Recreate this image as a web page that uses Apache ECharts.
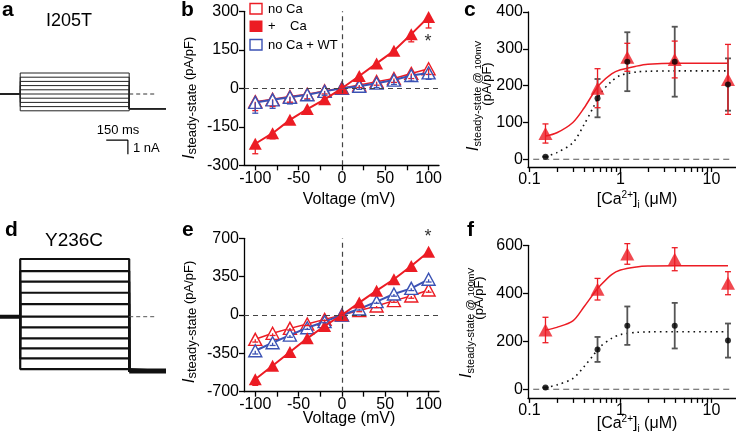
<!DOCTYPE html>
<html>
<head>
<meta charset="utf-8">
<script src="https://cdn.jsdelivr.net/npm/echarts@6/dist/echarts.min.js"></script>
<style>
html, body { margin: 0; padding: 0; background: #fff; }
#chart { width: 736px; height: 439px; }
</style>
</head>
<body>
<div id="chart"></div>
<script>
var FONT = '"Liberation Sans", Arial, Helvetica, sans-serif';
var RED = '#ec1c24';
var BLUE = '#3b52b4';

// a, d: whole-cell current traces (nA); voltage step 140-895 ms
var stepTimes = [0, 140, 895, 1150];
var tracesA = [1.5, 1.2, 0.9, 0.6, 0.3, 0, -0.3, -0.6, -0.9, -1.2];
var tailA = -1.05;
var tracesD = [4.12, 3.26, 2.5, 1.71, 0.9, 0, -0.76, -1.55, -2.26, -2.98, -3.74];
var tailD = -3.88;
var scaleBarMs = 150;
var scaleBarNA = 1;

// b, e: steady-state I-V (pA/pF)
var voltages = [-100, -80, -60, -40, -20, 0, 20, 40, 60, 80, 100];
var bNoCa = [-52, -43, -32, -23, -10, 0, 13, 26, 38, 58, 76];
var bNoCaErr = [35, 28, 22, 18, 12, 3, 10, 14, 15, 20, 22];
var bCa = [-216, -175, -123, -81, -43, 0, 48, 97, 146, 211, 278];
var bCaErr = [39, 22, 15, 12, 10, 4, 8, 10, 12, 30, 43];
var bWT = [-55, -45, -35, -25, -12, 0, 8, 20, 32, 50, 60];
var bWTErr = [42, 33, 26, 20, 15, 3, 12, 17, 17, 22, 25];

var eNoCa = [-222, -167, -122, -82, -40, 0, 40, 82, 131, 173, 228];
var eNoCaErr = [25, 20, 15, 15, 10, 5, 10, 15, 15, 20, 20];
var eCa = [-587, -463, -338, -213, -100, 0, 113, 222, 326, 447, 578];
var eCaErr = [55, 30, 25, 20, 15, 5, 15, 20, 20, 25, 40];
var eWT = [-326, -253, -183, -116, -61, 0, 55, 122, 192, 243, 326];
var eWTErr = [30, 25, 20, 15, 10, 5, 10, 15, 20, 20, 25];

// c, f: current at +100 mV vs [Ca2+]i (uM)
var caConc = [0.15, 0.56, 1.19, 3.95, 15.2];
var cRed = [70, 193, 277, 271, 217];
var cRedErr = [26, 53, 38, 50, 95];
var fRed = [247, 417, 564, 542, 442];
var fRedErr = [53, 45, 43, 48, 48];
var wtBlack = [7, 166, 265, 265, 203];
var wtBlackErr = [0, 52, 80, 95, 71];

// fitted curves
var fitConc = [0.15, 0.2, 0.3, 0.4, 0.5, 0.6, 0.8, 1.0, 1.5, 2, 4, 15.2];
var cRedFit = [63, 72, 100, 140, 178, 205, 232, 243, 253, 258, 261, 261];
var fRedFit = [247, 258, 285, 345, 395, 432, 478, 497, 510, 514, 515, 515];
var wtFit = [7, 18, 45, 95, 140, 178, 212, 228, 237, 239, 240, 240];
var baseConc = [0.11, 16];
var logTicks = [0.1, 0.2, 0.3, 0.4, 0.5, 0.6, 0.7, 0.8, 0.9, 1, 2, 3, 4, 5, 6, 7, 8, 9, 10];
var logLabels = [0.1, 1, 10];

function tracePath(level, tail) {
    return [[stepTimes[0], 0], [stepTimes[1], 0], [stepTimes[1], level],
            [stepTimes[2], level], [stepTimes[2], tail], [stepTimes[3], tail]];
}

function axisBase(gi, min, max) {
    return {
        type: 'value', gridIndex: gi, min: min, max: max,
        splitLine: {show: false},
        axisLine: {show: true, onZero: false, lineStyle: {color: '#000', width: 1.3}},
        axisTick: {show: true, length: 5, lineStyle: {color: '#000', width: 1.3}},
        axisLabel: {color: '#000', fontSize: 16, margin: 5, fontFamily: FONT}
    };
}

function hiddenAxis(gi, min, max) {
    return {type: 'value', gridIndex: gi, min: min, max: max, show: false};
}

function ivSeries(name, ai, vals, color, filled, lw, z) {
    return {
        name: name, type: 'line', xAxisIndex: ai, yAxisIndex: ai, z: z,
        data: voltages.map(function (v, i) { return [v, vals[i]]; }),
        symbol: 'triangle', symbolSize: [13, 12], showSymbol: true,
        itemStyle: {color: filled ? color : '#fff', borderColor: color, borderWidth: filled ? 0 : 1.4},
        lineStyle: {color: color, width: lw},
        silent: true
    };
}

function errSeries(xi, yi, data, color, lw, capW, downOnly, z) {
    return {
        type: 'custom', xAxisIndex: xi, yAxisIndex: yi, z: z, silent: true,
        encode: {x: 0, y: 1},
        data: data,
        renderItem: function (params, api) {
            var x = api.value(0), y = api.value(1), e = api.value(2);
            var top = api.coord([x, downOnly ? y : y + e]);
            var bot = api.coord([x, y - e]);
            var st = {stroke: color, lineWidth: lw};
            var kids = [
                {type: 'line', shape: {x1: top[0], y1: top[1], x2: bot[0], y2: bot[1]}, style: st},
                {type: 'line', shape: {x1: bot[0] - capW / 2, y1: bot[1], x2: bot[0] + capW / 2, y2: bot[1]}, style: st}
            ];
            if (!downOnly) {
                kids.push({type: 'line', shape: {x1: top[0] - capW / 2, y1: top[1], x2: top[0] + capW / 2, y2: top[1]}, style: st});
            }
            return {type: 'group', children: kids};
        }
    };
}

function ivErr(vals, errs) {
    return voltages.map(function (v, i) { return [v, vals[i], errs[i]]; });
}

function logPts(xs, ys) {
    return xs.map(function (c, i) { return [Math.log10(c), ys[i]]; });
}

function logErr(ys, errs) {
    return caConc.map(function (c, i) { return [Math.log10(c), ys[i], errs[i]]; });
}

function zeroLines(ai) {
    return {
        type: 'line', xAxisIndex: ai, yAxisIndex: ai, z: 1, data: [[0, 0]], symbol: 'none',
        lineStyle: {opacity: 0}, silent: true,
        markLine: {
            silent: true, symbol: 'none', label: {show: false}, animation: false,
            lineStyle: {color: '#444', width: 1.2, type: [5, 4]},
            data: [{xAxis: 0}, {yAxis: 0}]
        }
    };
}

function logXAxis(gi) {
    var ax = axisBase(gi, -1.016, 1.27);
    ax.axisTick.customValues = logTicks.map(Math.log10);
    ax.axisLabel.customValues = logLabels.map(Math.log10);
    ax.axisLabel.formatter = function (v) { return String(+Math.pow(10, v).toPrecision(3)); };
    return ax;
}

function ivXAxis(gi) {
    var ax = axisBase(gi, -113, 112);
    ax.axisTick.customValues = [-100, -75, -50, -25, 0, 25, 50, 75, 100];
    ax.axisLabel.customValues = [-100, -50, 0, 50, 100];
    return ax;
}

function ticksY(gi, min, max, vals) {
    var ax = axisBase(gi, min, max);
    ax.axisTick.customValues = vals;
    ax.axisLabel.customValues = vals;
    return ax;
}

var ivY1 = axisBase(1, -300, 300); ivY1.interval = 150;
var ivY4 = axisBase(4, -700, 700); ivY4.interval = 350;

var series = [];

// a traces
tracesA.forEach(function (lv) {
    series.push({type: 'line', xAxisIndex: 0, yAxisIndex: 0, data: tracePath(lv, tailA), symbol: 'none',
                 lineStyle: {color: '#222', width: 1}, silent: true});
});
series.push({type: 'line', xAxisIndex: 0, yAxisIndex: 0, symbol: 'none', silent: true,
             data: [[stepTimes[2], 0], [stepTimes[2] + 178, 0]],
             lineStyle: {color: '#333', width: 1, type: [4, 3]}});
series.push({type: 'line', xAxisIndex: 0, yAxisIndex: 0, symbol: 'none', silent: true,
             data: [[886 - scaleBarMs, -3.3], [886, -3.3], [886, -3.3 - scaleBarNA]],
             lineStyle: {color: '#000', width: 1.2}});

// d traces
tracesD.forEach(function (lv) {
    series.push({type: 'line', xAxisIndex: 3, yAxisIndex: 3, data: tracePath(lv, tailD), symbol: 'none',
                 lineStyle: {color: '#111', width: 2.2}, silent: true});
});
series.push({type: 'line', xAxisIndex: 3, yAxisIndex: 3, symbol: 'none', silent: true,
             data: [[stepTimes[0], 0], [stepTimes[1], 0]], lineStyle: {color: '#111', width: 4}});
series.push({type: 'line', xAxisIndex: 3, yAxisIndex: 3, symbol: 'none', silent: true,
             data: [[stepTimes[2], tailD], [stepTimes[3], tailD]], lineStyle: {color: '#111', width: 5}});
series.push({type: 'line', xAxisIndex: 3, yAxisIndex: 3, symbol: 'none', silent: true,
             data: [[stepTimes[2], 0], [stepTimes[2] + 178, 0]],
             lineStyle: {color: '#555', width: 1, type: [4, 3]}});

// b
series.push(zeroLines(1));
series.push(ivSeries('no Ca', 1, bNoCa, RED, false, 1.5, 2));
series.push(ivSeries('no Ca + WT', 1, bWT, BLUE, false, 2, 3));
series.push(ivSeries('+    Ca', 1, bCa, RED, true, 2, 4));
series.push(errSeries(1, 1, ivErr(bNoCa, bNoCaErr), RED, 1.3, 6, true, 5));
series.push(errSeries(1, 1, ivErr(bWT, bWTErr), BLUE, 1.3, 6, true, 5));
series.push(errSeries(1, 1, ivErr(bCa, bCaErr), RED, 1.3, 6, true, 5));

// e
series.push(zeroLines(4));
series.push(ivSeries('no Ca', 4, eNoCa, RED, false, 1.5, 2));
series.push(ivSeries('no Ca + WT', 4, eWT, BLUE, false, 2, 3));
series.push(ivSeries('+    Ca', 4, eCa, RED, true, 2, 4));
series.push(errSeries(4, 4, ivErr(eNoCa, eNoCaErr), RED, 1.3, 6, true, 5));
series.push(errSeries(4, 4, ivErr(eWT, eWTErr), BLUE, 1.3, 6, true, 5));
series.push(errSeries(4, 4, ivErr(eCa, eCaErr), RED, 1.3, 6, true, 5));

// c and f
[[2, cRed, cRedErr, cRedFit], [5, fRed, fRedErr, fRedFit]].forEach(function (p) {
    var ai = p[0];
    series.push({type: 'line', xAxisIndex: ai, yAxisIndex: ai, symbol: 'none', silent: true, z: 1,
                 data: logPts(baseConc, [0, 0]), lineStyle: {color: '#555', width: 1.2, type: [6, 4]}});
    series.push({type: 'line', xAxisIndex: ai, yAxisIndex: ai, symbol: 'none', silent: true, z: 2, smooth: 0.3,
                 data: logPts(fitConc, wtFit), lineStyle: {color: '#111', width: 1.6, type: [1.6, 4]}});
    series.push({type: 'line', xAxisIndex: ai, yAxisIndex: ai, symbol: 'none', silent: true, z: 2, smooth: 0.3,
                 data: logPts(fitConc, p[3]), lineStyle: {color: RED, width: 1.5}});
    series.push(errSeries(ai, ai, logErr(wtBlack, wtBlackErr), '#555', 1.8, 6, false, 3));
    series.push(errSeries(ai, ai, logErr(p[1], p[2]), RED, 1.3, 6, false, 4));
    series.push({type: 'scatter', xAxisIndex: ai, yAxisIndex: ai, z: 5, silent: true,
                 data: logPts(caConc, p[1]), symbol: 'triangle', symbolSize: [14, 13],
                 itemStyle: {color: RED}});
    series.push({type: 'scatter', xAxisIndex: ai, yAxisIndex: ai, z: 6, silent: true,
                 data: logPts(caConc, wtBlack), symbol: 'circle', symbolSize: 6,
                 itemStyle: {color: '#000'}});
});

function txt(x, y, text, size, extra, rot) {
    var style = {text: text, fontSize: size, fontFamily: FONT, fill: '#000',
                 textAlign: 'center', textVerticalAlign: 'middle'};
    for (var k in extra) style[k] = extra[k];
    var el = {type: 'text', x: x, y: y, silent: true, style: style};
    if (rot) el.rotation = rot;
    return el;
}

var yRich = {
    i: {fontSize: 17, fontStyle: 'italic', fontFamily: FONT, fill: '#000', lineHeight: 20, verticalAlign: 'middle'},
    s: {fontSize: 13, fontFamily: FONT, fill: '#000', lineHeight: 11, verticalAlign: 'bottom'},
    t: {fontSize: 11, fontFamily: FONT, fill: '#000', lineHeight: 11, verticalAlign: 'bottom'},
    m: {fontSize: 9, fontFamily: FONT, fill: '#000', lineHeight: 14, verticalAlign: 'bottom'},
    n: {fontSize: 13, fontFamily: FONT, fill: '#000', lineHeight: 20, verticalAlign: 'middle'}
};
var caRich = {
    sup: {fontSize: 10, fontFamily: FONT, fill: '#000', lineHeight: 10, verticalAlign: 'top'},
    sub: {fontSize: 10, fontFamily: FONT, fill: '#000', lineHeight: 10, verticalAlign: 'bottom'}
};
var R90 = Math.PI / 2;
var ivTitle = '{i|I}{s|steady-state}{n| (pA/pF)}';
var caTitle1 = '{i|I}{t|steady-state @ }{m|100mV}';
var caXTitle = '[Ca{sup|2+}]{sub|i} (\u03bcM)';

var graphic = [
    txt(2, 10, 'a', 21, {fontWeight: 'bold', textAlign: 'left'}),
    txt(181, 10, 'b', 21, {fontWeight: 'bold', textAlign: 'left'}),
    txt(464, 10, 'c', 21, {fontWeight: 'bold', textAlign: 'left'}),
    txt(5, 230, 'd', 21, {fontWeight: 'bold', textAlign: 'left'}),
    txt(182, 230, 'e', 21, {fontWeight: 'bold', textAlign: 'left'}),
    txt(467, 230, 'f', 21, {fontWeight: 'bold', textAlign: 'left'}),
    txt(69, 21, 'I205T', 18),
    txt(74, 241, 'Y236C', 19),
    txt(118, 130, '150 ms', 13),
    txt(133, 148, '1 nA', 13, {textAlign: 'left'}),
    txt(349, 200, 'Voltage (mV)', 16),
    txt(349, 419, 'Voltage (mV)', 16),
    txt(637, 200, caXTitle, 16, {rich: caRich, lineHeight: 20}),
    txt(637, 424, caXTitle, 16, {rich: caRich, lineHeight: 20}),
    txt(189, 98, ivTitle, 13, {rich: yRich}, R90),
    txt(189, 322, ivTitle, 13, {rich: yRich}, R90),
    txt(473, 96, caTitle1, 13, {rich: yRich}, R90),
    txt(487, 84, '(pA/pF)', 13, {}, R90),
    txt(466, 323, caTitle1, 13, {rich: yRich}, R90),
    txt(479, 298, '(pA/pF)', 13, {}, R90),
    txt(428, 42, '*', 18, {fill: '#333'}),
    txt(428, 237, '*', 18, {fill: '#333'}),
    // legend of panel b
    {type: 'rect', silent: true, shape: {x: 250, y: 3.5, width: 12, height: 10.5},
     style: {fill: '#fff', stroke: RED, lineWidth: 1.4}},
    {type: 'rect', silent: true, shape: {x: 249.5, y: 20.5, width: 13, height: 11.5},
     style: {fill: RED}},
    {type: 'rect', silent: true, shape: {x: 250, y: 39.5, width: 12, height: 10.5},
     style: {fill: '#fff', stroke: BLUE, lineWidth: 1.4}},
    txt(268, 9, 'no Ca', 13, {textAlign: 'left'}),
    txt(268, 26.5, '+    Ca', 13, {textAlign: 'left'}),
    txt(268, 45, 'no Ca + WT', 13, {textAlign: 'left'})
];

var option = {
    animation: false,
    backgroundColor: '#fff',
    textStyle: {fontFamily: FONT},
    grid: [
        {left: 0, top: 59, width: 166, height: 105},
        {left: 244, top: 11.3, width: 195, height: 154},
        {left: 528, top: 12, width: 208, height: 155},
        {left: 0, top: 246.7, width: 166, height: 140},
        {left: 244, top: 238.3, width: 195, height: 153.4},
        {left: 528, top: 245.3, width: 208, height: 152.6}
    ],
    xAxis: [
        hiddenAxis(0, 0, 1150),
        ivXAxis(1),
        logXAxis(2),
        hiddenAxis(3, 0, 1150),
        ivXAxis(4),
        logXAxis(5)
    ],
    yAxis: [
        hiddenAxis(0, -5, 2.5),
        ivY1,
        ticksY(2, -21, 400, [0, 100, 200, 300, 400]),
        hiddenAxis(3, -5, 5),
        ivY4,
        ticksY(5, -36, 600, [0, 200, 400, 600])
    ],
    series: series,
    graphic: graphic
};

var chart = echarts.init(document.getElementById('chart'), null, {renderer: 'canvas'});
chart.setOption(option);
</script>
</body>
</html>
